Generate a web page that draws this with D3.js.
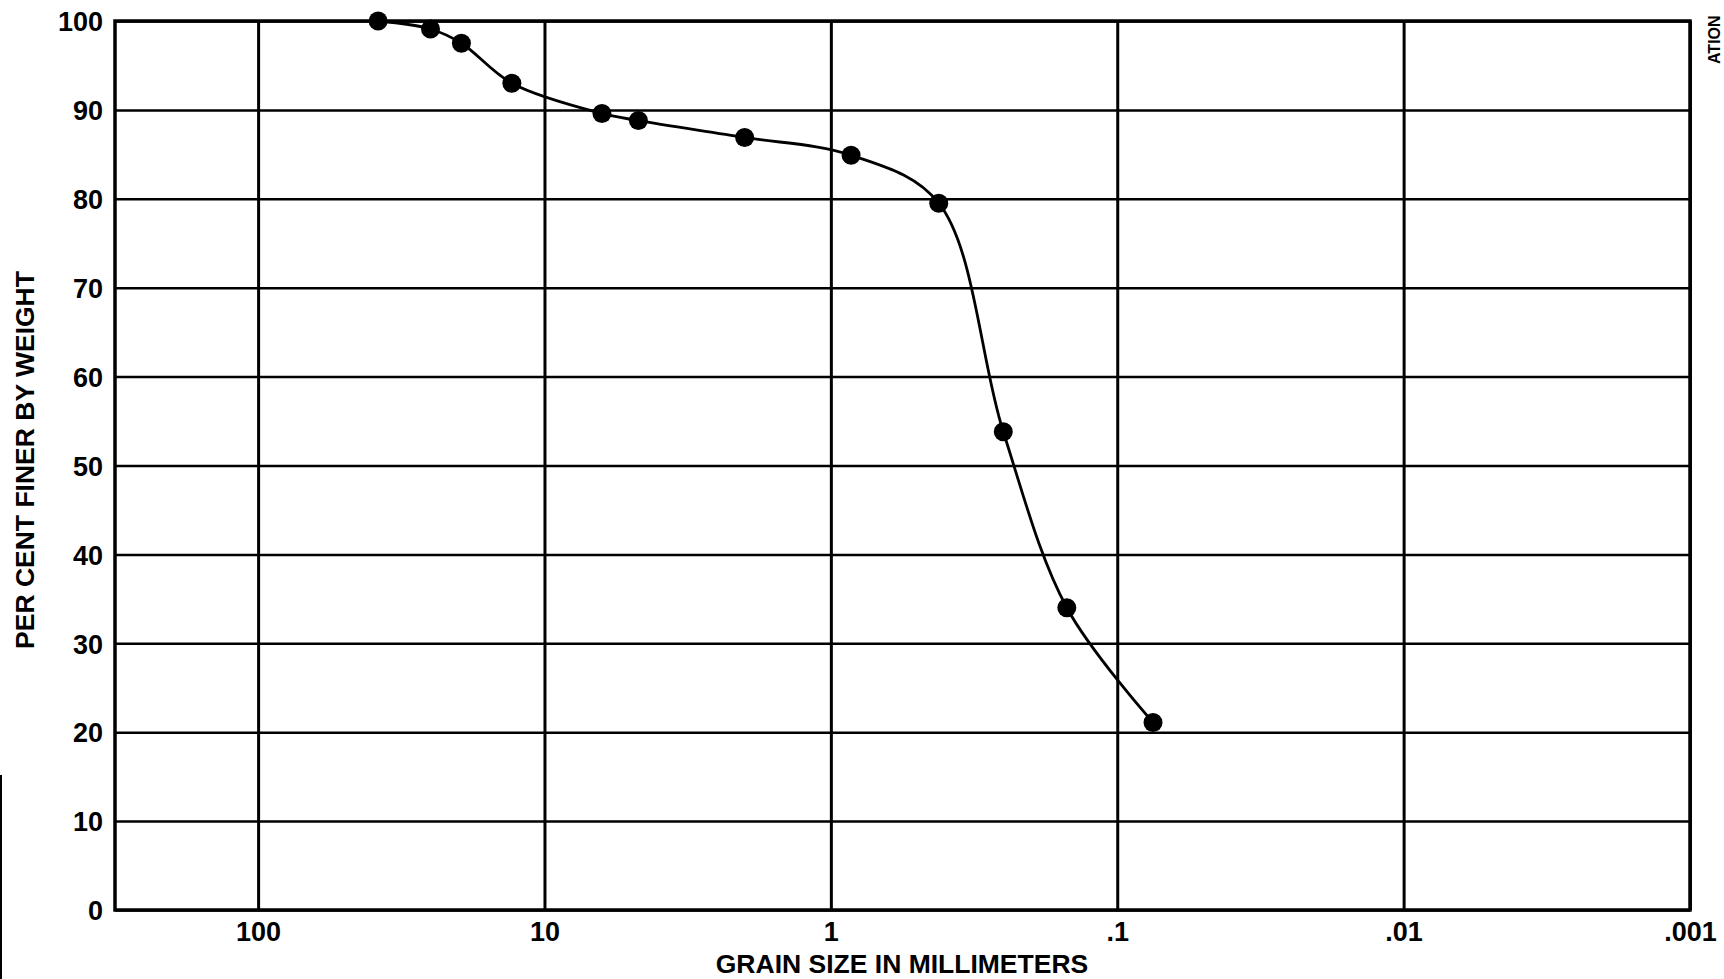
<!DOCTYPE html>
<html>
<head>
<meta charset="utf-8">
<script src="https://cdn.jsdelivr.net/npm/d3@7"></script>
<style>
  html, body { margin: 0; padding: 0; background: #fff; }
  svg { display: block; }
  .lbl { font-family: "Liberation Sans", Arial, sans-serif; font-weight: bold; fill: #000; }
</style>
</head>
<body>
<svg width="1724" height="979"></svg>
<script>
// grain size (mm) and percent finer
const grainSize = [38.1, 25.0, 19.5, 13.0, 6.3, 4.7, 2.0, 0.85, 0.42, 0.25, 0.15, 0.075];
const percentFiner = [100, 99.1, 97.5, 93.0, 89.6, 88.8, 86.9, 84.9, 79.5, 53.8, 34.0, 21.1];

const xTicks = [100, 10, 1, 0.1, 0.01, 0.001];
const xTickLabels = ["100", "10", "1", ".1", ".01", ".001"];
const yTicks = [0, 10, 20, 30, 40, 50, 60, 70, 80, 90, 100];

const svg = d3.select("svg");
const plotL = 115, plotR = 1690, plotT = 21, plotB = 910;

const x = d3.scaleLog().domain([316, 0.001]).range([plotL, plotR]);
const y = d3.scaleLinear().domain([0, 100]).range([plotB, plotT]);

// horizontal grid + y labels
const yAxis = svg.append("g")
  .attr("transform", `translate(${plotL},0)`)
  .call(d3.axisLeft(y).tickValues(yTicks).tickSize(-(plotR - plotL)).tickPadding(12));
yAxis.select(".domain").remove();
yAxis.selectAll(".tick line").attr("stroke", "#000").attr("stroke-width", 2.5);
yAxis.selectAll(".tick text").attr("class", "lbl").attr("font-size", 27).attr("dy", "0.36em");

// vertical grid + x labels
const xAxis = svg.append("g")
  .attr("transform", `translate(0,${plotB})`)
  .call(d3.axisBottom(x).tickValues(xTicks)
    .tickFormat((d, i) => xTickLabels[i])
    .tickSize(-(plotB - plotT)).tickPadding(12));
xAxis.select(".domain").remove();
xAxis.selectAll(".tick line").attr("stroke", "#000").attr("stroke-width", 3);
xAxis.selectAll(".tick text").attr("class", "lbl").attr("font-size", 27);

// frame
svg.append("rect")
  .attr("x", plotL).attr("y", plotT)
  .attr("width", plotR - plotL).attr("height", plotB - plotT)
  .attr("fill", "none").attr("stroke", "#000").attr("stroke-width", 3.5);

// curve and points
const pts = grainSize.map((g, i) => [x(g), y(percentFiner[i])]);
svg.append("path")
  .attr("d", d3.line().curve(d3.curveCatmullRom.alpha(0.5))(pts))
  .attr("fill", "none").attr("stroke", "#000").attr("stroke-width", 2.8);

svg.selectAll("circle.pt").data(grainSize).enter().append("circle")
  .attr("class", "pt")
  .attr("cx", d => x(d))
  .attr("cy", (d, i) => y(percentFiner[i]))
  .attr("r", 9.5)
  .attr("fill", "#000");

// axis titles
svg.append("text").attr("class", "lbl")
  .attr("x", 902).attr("y", 973)
  .attr("text-anchor", "middle").attr("font-size", 26.5)
  .text("GRAIN SIZE IN MILLIMETERS");

svg.append("text").attr("class", "lbl")
  .attr("transform", "translate(34,460) rotate(-90)")
  .attr("text-anchor", "middle").attr("font-size", 26.5)
  .text("PER CENT FINER BY WEIGHT");

// text at the right edge of the scan
svg.append("text").attr("class", "lbl")
  .attr("transform", "translate(1720,64) rotate(-90)")
  .attr("font-size", 16)
  .text("ATION");

// scan edge
svg.append("line")
  .attr("x1", 1).attr("x2", 1).attr("y1", 775).attr("y2", 979)
  .attr("stroke", "#000").attr("stroke-width", 2);
</script>
</body>
</html>
